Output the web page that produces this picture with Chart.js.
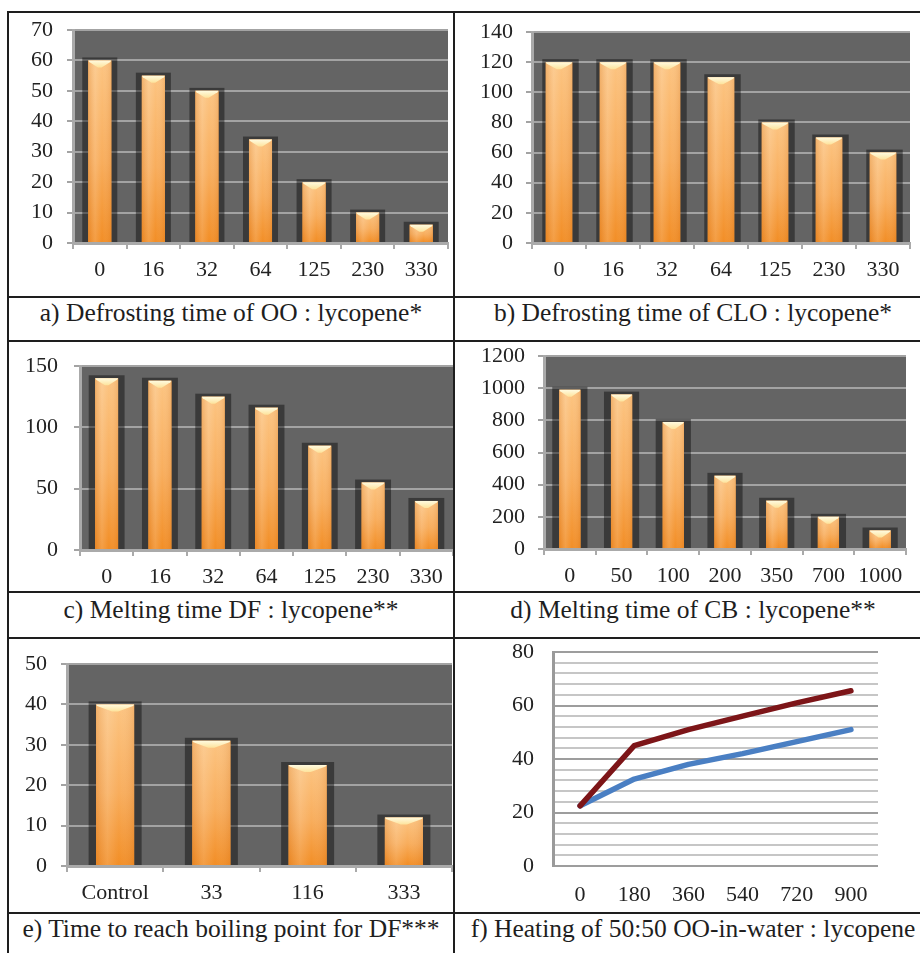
<!DOCTYPE html>
<html>
<head>
<meta charset="utf-8">
<script src="https://cdn.jsdelivr.net/npm/chart.js@4.4.1/dist/chart.umd.min.js"></script>
<style>
  html, body { margin: 0; padding: 0; background: #fff; }
  body { width: 920px; height: 953px; position: relative; overflow: hidden; font-family: 'Liberation Serif', 'Times New Roman', serif; }
  .rule { position: absolute; background: #1e1e1e; }
  .box { position: absolute; }
  .box canvas { display: block; }
  .cap { position: absolute; height: 30px; line-height: 30px; text-align: center; color: #1e1e1e; font-size: 25.5px; white-space: nowrap; }
</style>
</head>
<body>
<!-- table rules -->
<div class="rule" style="left:7px;top:11px;width:913px;height:2px"></div>
<div class="rule" style="left:7px;top:296px;width:913px;height:2px"></div>
<div class="rule" style="left:7px;top:340px;width:913px;height:2px"></div>
<div class="rule" style="left:7px;top:591px;width:913px;height:2px"></div>
<div class="rule" style="left:7px;top:637px;width:913px;height:2px"></div>
<div class="rule" style="left:7px;top:912px;width:913px;height:2px"></div>
<div class="rule" style="left:7px;top:11px;width:2px;height:942px"></div>
<div class="rule" style="left:453px;top:11px;width:2px;height:942px"></div>

<div class="box" style="left:10px;top:14px;width:443px;height:282px"><canvas id="cA"></canvas></div>
<div class="box" style="left:456px;top:14px;width:464px;height:282px"><canvas id="cB"></canvas></div>
<div class="box" style="left:10px;top:343px;width:443px;height:248px"><canvas id="cC"></canvas></div>
<div class="box" style="left:456px;top:343px;width:464px;height:248px"><canvas id="cD"></canvas></div>
<div class="box" style="left:10px;top:640px;width:443px;height:272px"><canvas id="cE"></canvas></div>
<div class="box" style="left:456px;top:640px;width:464px;height:272px"><canvas id="cF"></canvas></div>

<div class="cap" style="left:9px;width:444px;top:298px">a) Defrosting time of OO : lycopene*</div>
<div class="cap" style="left:455px;width:476px;top:298px">b) Defrosting time of CLO : lycopene*</div>
<div class="cap" style="left:9px;width:444px;top:595px">c) Melting time DF : lycopene**</div>
<div class="cap" style="left:455px;width:476px;top:595px">d) Melting time of CB : lycopene**</div>
<div class="cap" style="left:9px;width:444px;top:914px">e) Time to reach boiling point for DF***</div>
<div class="cap" style="left:455px;width:476px;top:914px">f) Heating of 50:50 OO-in-water : lycopene</div>

<script>
// ---- data ----
const timeLabels = ['0', '16', '32', '64', '125', '230', '330'];
const defrostOO = [60, 55, 50, 34, 20, 10, 6];
const defrostCLO = [120, 120, 120, 110, 80, 70, 60];
const meltDF = [140, 138, 125, 116, 85, 55, 40];
const cbLabels = ['0', '50', '100', '200', '350', '700', '1000'];
const meltCB = [990, 960, 790, 455, 300, 200, 115];
const boilLabels = ['Control', '33', '116', '333'];
const boilDF = [40, 31, 25, 12];
const heatLabels = ['0', '180', '360', '540', '720', '900'];
const heatUpper = [22.5, 45, 51, 56, 61, 65.5];
const heatLower = [22.5, 32.5, 38, 42, 46.5, 51];

Chart.defaults.font.family = "'Liberation Serif', 'Times New Roman', serif";
Chart.defaults.font.size = 22;
Chart.defaults.color = '#222';
Chart.defaults.animation = false;
Chart.defaults.responsive = false;

const GRID = '#a3a3a3';
const AXIS = '#aaaaaa';

// fix axis size and drop the label overhang so the plot area sits where the layout padding says
function fixY(w) {
  return s => { s.width = w; s.paddingTop = 0; s.paddingBottom = 0; };
}
function fixX(h) {
  return s => { s.height = h; s.paddingLeft = 0; s.paddingRight = 0; };
}

// Plot background, dark back-shadow behind each bar, gradient + bevel cap on top of each bar
const barDeco = {
  id: 'barDeco',
  beforeDraw(chart, args, o) {
    const a = chart.chartArea, ctx = chart.ctx;
    ctx.save();
    ctx.fillStyle = o.plotBg || '#646464';
    ctx.fillRect(a.left, a.top, a.right - a.left, a.bottom - a.top);
    ctx.restore();
  },
  beforeDatasetsDraw(chart, args, o) {
    if (!o.bars) return;
    const ctx = chart.ctx;
    ctx.save();
    ctx.fillStyle = 'rgba(0,0,0,0.42)';
    chart.getDatasetMeta(0).data.forEach(bar => {
      const p = bar.getProps(['x', 'y', 'base', 'width'], true);
      const l = p.x - p.width / 2 - o.padL, r = p.x + p.width / 2 + o.padR;
      ctx.fillRect(l, p.y - o.lift, r - l, p.base - p.y + o.lift);
    });
    ctx.restore();
  },
  afterDatasetsDraw(chart, args, o) {
    if (!o.bars) return;
    const ctx = chart.ctx;
    ctx.save();
    chart.getDatasetMeta(0).data.forEach(bar => {
      const p = bar.getProps(['x', 'y', 'base', 'width'], true);
      const L = p.x - p.width / 2, R = p.x + p.width / 2, T = p.y, B = p.base, W = R - L;
      const gv = ctx.createLinearGradient(0, T, 0, B);
      gv.addColorStop(0, '#fcc481');
      gv.addColorStop(0.55, '#f8ad5c');
      gv.addColorStop(1, '#f28e26');
      ctx.fillStyle = gv;
      ctx.fillRect(L, T, W, B - T);
      const gh = ctx.createLinearGradient(L, 0, R, 0);
      gh.addColorStop(0, 'rgba(190,90,10,0.18)');
      gh.addColorStop(0.3, 'rgba(255,255,255,0.14)');
      gh.addColorStop(0.6, 'rgba(255,255,255,0)');
      gh.addColorStop(1, 'rgba(190,90,10,0.16)');
      ctx.fillStyle = gh;
      ctx.fillRect(L, T, W, B - T);
      // bevel cap
      const d = Math.min(7, (B - T) * 0.5);
      const gc = ctx.createLinearGradient(0, T, 0, T + d);
      gc.addColorStop(0, '#fffbe0');
      gc.addColorStop(1, '#fde39c');
      ctx.fillStyle = gc;
      ctx.beginPath();
      ctx.moveTo(L, T);
      ctx.lineTo(R, T);
      ctx.lineTo(R - 1, T + 1.5);
      ctx.lineTo(p.x + W * 0.08, T + d);
      ctx.lineTo(p.x - W * 0.08, T + d);
      ctx.lineTo(L + 1, T + 1.5);
      ctx.closePath();
      ctx.fill();
    });
    ctx.restore();
  }
};

function barChart(id, labels, values, cfg) {
  const el = document.getElementById(id);
  const box = el.parentElement;
  el.width = box.clientWidth; el.height = box.clientHeight;
  return new Chart(el, {
    type: 'bar',
    data: {
      labels: labels,
      datasets: [{ data: values, backgroundColor: '#f5a04a', borderWidth: 0,
        categoryPercentage: 1, barPercentage: cfg.barFrac }]
    },
    options: {
      layout: { padding: { top: cfg.top, right: cfg.right, left: 0, bottom: 0 } },
      plugins: { legend: { display: false }, tooltip: { enabled: false },
        barDeco: { bars: true, padL: cfg.padL, padR: cfg.padR, lift: 3, plotBg: '#646464' } },
      scales: {
        x: {
          grid: { display: true, drawOnChartArea: false, offset: true, tickLength: 6, color: AXIS, lineWidth: 2 },
          border: { display: true, color: AXIS, width: 3 },
          ticks: { padding: 8, maxRotation: 0, autoSkip: false },
          afterFit: fixX(cfg.xh)
        },
        y: {
          min: 0, max: cfg.max,
          grid: { color: GRID, lineWidth: 2, tickLength: 6 },
          border: { display: true, color: AXIS, width: 3 },
          ticks: { stepSize: cfg.step, padding: cfg.yPad, autoSkip: false, callback: v => String(v) },
          afterFit: fixY(cfg.yw)
        }
      }
    },
    plugins: [barDeco]
  });
}

barChart('cA', timeLabels, defrostOO, { max: 70, step: 10, top: 16, right: 5, yw: 63, xh: 53, yPad: 14, barFrac: 0.43, padL: 6, padR: 6 });
barChart('cB', timeLabels, defrostCLO, { max: 140, step: 20, top: 18, right: 10, yw: 76, xh: 53, yPad: 13, barFrac: 0.49, padL: 3.5, padR: 6.5 });
barChart('cC', timeLabels, meltDF, { max: 150, step: 50, top: 23, right: 0, yw: 70, xh: 41, yPad: 16, barFrac: 0.43, padL: 6.5, padR: 6.5 });
barChart('cD', cbLabels, meltCB, { max: 1200, step: 200, top: 13, right: 14, yw: 88, xh: 42, yPad: 13, barFrac: 0.41, padL: 7, padR: 7 });
barChart('cE', boilLabels, boilDF, { max: 50, step: 10, top: 24, right: 1, yw: 57, xh: 46, yPad: 14, barFrac: 0.395, padL: 7.5, padR: 7.5 });

// line chart f
(function () {
  const el = document.getElementById('cF');
  const box = el.parentElement;
  el.width = box.clientWidth; el.height = box.clientHeight;
  new Chart(el, {
    type: 'line',
    data: {
      labels: heatLabels,
      datasets: [
        { data: heatUpper, borderColor: '#7d1518', borderWidth: 5.5, pointRadius: 0, tension: 0,
          borderCapStyle: 'round', borderJoinStyle: 'round' },
        { data: heatLower, borderColor: '#4a7fc3', borderWidth: 5.5, pointRadius: 0, tension: 0,
          borderCapStyle: 'round', borderJoinStyle: 'round' }
      ]
    },
    options: {
      layout: { padding: { top: 12, right: 42, left: 0, bottom: 0 } },
      plugins: { legend: { display: false }, tooltip: { enabled: false },
        barDeco: { bars: false, plotBg: '#ffffff' } },
      scales: {
        x: {
          offset: true,
          grid: { display: false },
          border: { display: false },
          ticks: { padding: 8, maxRotation: 0, autoSkip: false },
          afterFit: fixX(46)
        },
        y: {
          min: 0, max: 80,
          grid: {
            drawTicks: false,
            color: c => (c.tick && c.tick.value % 20 === 0) ? '#9d9d9d' : '#c6c6c6',
            lineWidth: 2
          },
          border: { display: true, color: '#9a9a9a', width: 3 },
          ticks: { stepSize: 4, padding: 19, autoSkip: false,
            callback: v => (v % 20 === 0 ? String(v) : '') },
          afterFit: fixY(97)
        }
      }
    },
    plugins: [barDeco]
  });
})();
</script>
</body>
</html>
